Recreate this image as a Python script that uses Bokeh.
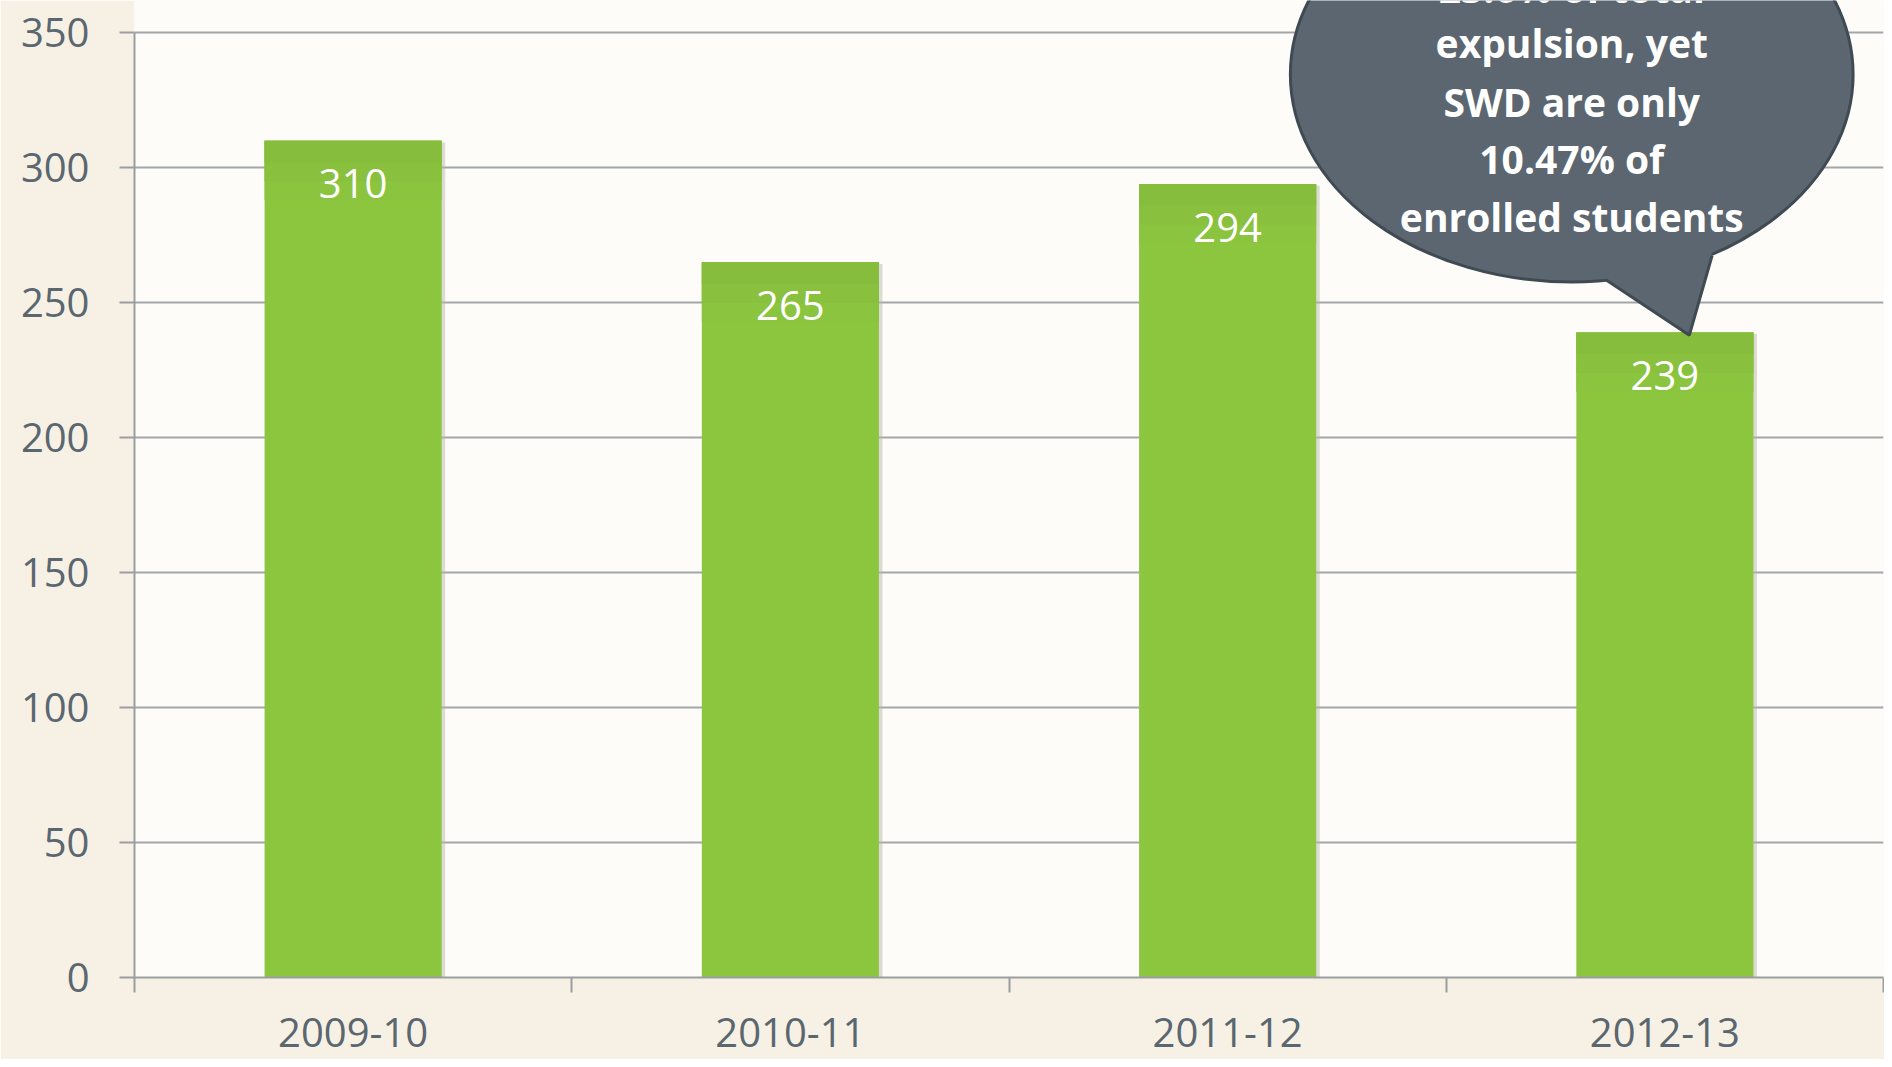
from bokeh.plotting import figure
from bokeh.models import FixedTicker, ColumnDataSource, Range1d
from bokeh.core.properties import value
from bokeh.embed import file_html
from bokeh.resources import INLINE

# ---- data ----
categories = ["2009-10", "2010-11", "2011-12", "2012-13"]
expulsions = [310, 265, 294, 239]
y_ticks = [0, 50, 100, 150, 200, 250, 300, 350]
callout_first = "23.6% of total"
callout_lines = ["expulsion, yet", "SWD are only", "10.47% of", "enrolled students"]

FONT = "Open Sans"
GREY_TXT = "#5b6770"

xs = [i + 0.5 for i in range(len(categories))]

p = figure(width=1884, height=1059, output_backend="svg", toolbar_location=None,
           x_range=Range1d(0, len(categories)), y_range=Range1d(0, 362.0),
           min_border_left=134, min_border_right=1, min_border_top=0, min_border_bottom=82)

p.border_fill_color = "#f6f1e4"
p.background_fill_color = "#fdfcf8"
p.outline_line_color = None

# axes
p.xaxis.ticker = FixedTicker(ticks=xs, minor_ticks=list(range(len(categories) + 1)))
p.xaxis.major_label_overrides = {x: c for x, c in zip(xs, categories)}
p.xaxis.major_tick_line_color = None
p.xaxis.minor_tick_out = 15
p.xaxis.minor_tick_in = 0
p.xaxis.minor_tick_line_color = "#9b9ea1"
p.xaxis.minor_tick_line_width = 2
p.xaxis.axis_line_color = "#9b9ea1"
p.xaxis.axis_line_width = 2
p.xaxis.major_label_text_font = FONT
p.xaxis.major_label_text_font_size = "40px"
p.xaxis.major_label_text_color = GREY_TXT
p.xaxis.major_label_standoff = 25

p.yaxis.ticker = FixedTicker(ticks=y_ticks, minor_ticks=[])
p.yaxis.bounds = (0, 350)
p.yaxis.major_tick_out = 15
p.yaxis.major_tick_in = 0
p.yaxis.major_tick_line_color = "#9b9ea1"
p.yaxis.major_tick_line_width = 2
p.yaxis.axis_line_color = "#9b9ea1"
p.yaxis.axis_line_width = 2
p.yaxis.major_label_text_font = FONT
p.yaxis.major_label_text_font_size = "40px"
p.yaxis.major_label_text_color = GREY_TXT
p.yaxis.major_label_standoff = 30

p.xgrid.grid_line_color = None
p.ygrid.ticker = FixedTicker(ticks=y_ticks)
p.ygrid.grid_line_color = "#a3a6a9"
p.ygrid.grid_line_width = 2

src = ColumnDataSource(dict(x=xs, top=expulsions, label=[str(v) for v in expulsions]))

# bar shadow
p.vbar(x=[x + 0.008 for x in xs], top=[v - 0.6 for v in expulsions], bottom=-1.2, width=0.405,
       fill_color="#b9b9b0", fill_alpha=0.5, line_color=None)
# bars
p.vbar(x="x", top="top", bottom=0, width=0.405, source=src,
       fill_color="#8cc63f", line_color=None)
# subtle darker gradient near the top
for depth, col in [(22, "#8bc43e"), (15, "#89c03d"), (8, "#87bd3c")]:
    p.vbar(x=xs, top=expulsions, bottom=[v - depth for v in expulsions], width=0.405,
           fill_color=col, line_color=None)

p.text(x="x", y="top", text="label", source=src, y_offset=43,
       text_font=value(FONT), text_font_size="40px", text_color="white",
       text_align="center", text_baseline="middle")

# callout attached to the last bar
last_x = xs[-1]
last_v = expulsions[-1]
cx, cy = last_x - 0.213, 334.6
fill = "#5b6670"
edge = "#3f4a53"
p.ellipse(x=[cx], y=[cy], width=1.287, height=153.8, fill_color=fill,
          line_color=edge, line_width=3)
tip = (last_x + 0.056, last_v - 1)
bl = (last_x - 0.135, 258.5)
br = (last_x + 0.108, 267.5)
p.patch(x=[bl[0], tip[0], br[0], br[0] - 0.01, bl[0] + 0.01],
        y=[bl[1], tip[1], br[1], br[1] + 4, bl[1] + 4],
        fill_color=fill, line_color=None)
p.line(x=[bl[0], tip[0], br[0]], y=[bl[1], tip[1], br[1]], line_color=edge, line_width=3)

# first line is mostly above the top edge (as in the original slide)
p.text(x=[cx], y=[360.6], text=[callout_first], y_offset=-17,
       text_font=value(FONT), text_font_size="39px", text_font_style="bold",
       text_color="white", text_align="center", text_baseline="alphabetic")
line_y = [346.6, 324.7, 303.6, 282.1]
p.text(x=[cx] * len(callout_lines), y=line_y, text=callout_lines,
       text_font=value(FONT), text_font_size="39px", text_font_style="bold",
       text_color="white", text_align="center", text_baseline="middle")

open("out.html", "w").write(file_html(p, INLINE))
